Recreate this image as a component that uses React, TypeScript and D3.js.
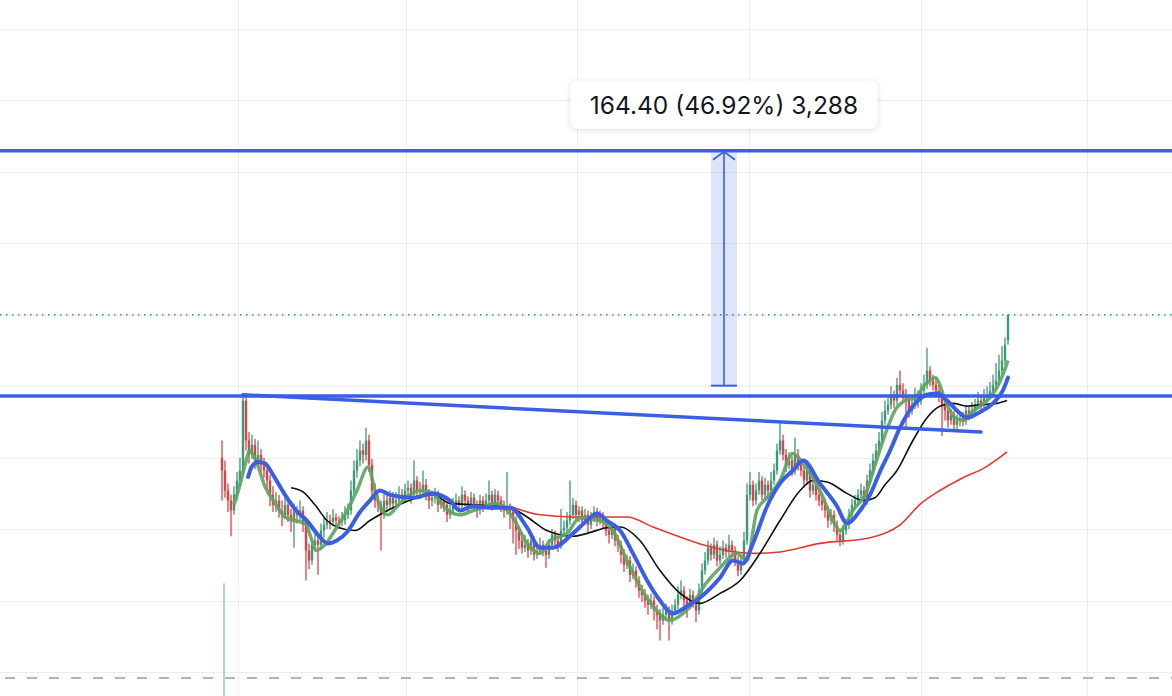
import * as d3 from 'd3'

const W = 1172
const H = 696

// daily bars, one slot per session (prices)
const opens = [
  300, 291, 277, 270, 263, 274, 284, 291, 340, 312,
  302, 309, 298, 302, 295, 291, 284, 274, 267, 270,
  263, 260, 267, 260, 256, 263, 260, 263, 253, 235,
  228, 239, 242, 239, 249, 253, 256, 255, 258, 256,
  255, 256, 260, 263, 277, 291, 298, 305, 302, 312,
  295, 277, 270, 267, 260, 270, 267, 272, 268, 270,
  274, 272, 277, 279, 274, 284, 277, 276, 281, 274,
  270, 272, 274, 267, 270, 267, 260, 263, 267, 270,
  267, 274, 270, 267, 272, 267, 263, 270, 267, 270,
  274, 267, 274, 270, 267, 263, 265, 262, 256, 249,
  242, 237, 239, 235, 242, 232, 235, 239, 235, 232,
  239, 246, 242, 239, 249, 251, 256, 260, 267, 260,
  263, 256, 260, 253, 258, 262, 256, 260, 255, 249,
  246, 251, 242, 239, 232, 225, 228, 218, 221, 214,
  207, 204, 200, 197, 200, 193, 190, 186, 190, 193,
  186, 193, 197, 204, 207, 200, 197, 204, 200, 193,
  207, 221, 228, 237, 232, 239, 228, 232, 237, 234,
  239, 235, 228, 221, 228, 242, 274, 281, 270, 277,
  284, 274, 281, 277, 284, 291, 305, 312, 302, 295,
  298, 291, 302, 295, 291, 284, 291, 277, 281, 274,
  270, 267, 263, 256, 260, 253, 246, 242, 249, 253,
  260, 267, 270, 274, 277, 270, 284, 291, 298, 305,
  312, 326, 333, 337, 344, 340, 351, 347, 344, 340,
  333, 337, 344, 340, 347, 351, 361, 354, 351, 347,
  344, 337, 333, 326, 330, 323, 326, 328, 326, 333,
  330, 333, 337, 340, 337, 342, 344, 347, 351, 354,
  361, 368, 382,
]
const highs = [
  312, 298, 282, 274, 280, 290, 300, 345, 343, 318,
  316, 313, 312, 306, 300, 294, 288, 280, 276, 274,
  270, 272, 270, 264, 268, 266, 270, 266, 256, 240,
  244, 248, 246, 254, 258, 262, 260, 264, 261, 259,
  262, 266, 268, 284, 298, 306, 312, 310, 321, 316,
  299, 282, 274, 270, 276, 275, 277, 276, 276, 280,
  278, 282, 284, 282, 298, 287, 283, 291, 285, 278,
  277, 279, 277, 275, 273, 270, 268, 272, 275, 273,
  280, 277, 273, 276, 275, 270, 274, 273, 275, 284,
  277, 278, 277, 273, 270, 290, 268, 265, 259, 252,
  248, 246, 243, 248, 245, 240, 244, 242, 238, 243,
  250, 249, 245, 264, 256, 262, 284, 272, 270, 266,
  266, 264, 263, 262, 266, 265, 263, 262, 258, 252,
  255, 254, 246, 242, 236, 232, 231, 226, 224, 217,
  211, 208, 204, 205, 203, 197, 194, 195, 198, 196,
  197, 201, 210, 214, 210, 203, 208, 207, 203, 212,
  226, 234, 242, 240, 244, 242, 238, 242, 240, 246,
  242, 238, 231, 232, 248, 282, 290, 284, 282, 290,
  287, 286, 284, 290, 296, 310, 324, 316, 306, 304,
  301, 314, 306, 299, 294, 296, 294, 286, 284, 278,
  274, 271, 266, 264, 263, 256, 250, 253, 257, 264,
  271, 274, 278, 282, 280, 288, 296, 303, 310, 318,
  332, 340, 342, 350, 347, 356, 361, 352, 348, 343,
  342, 349, 347, 352, 358, 377, 364, 358, 355, 351,
  347, 341, 337, 334, 333, 330, 331, 332, 337, 336,
  339, 341, 346, 343, 348, 350, 353, 358, 366, 372,
  378, 384, 400,
]
const lows = [
  270, 272, 262, 245, 260, 270, 280, 288, 305, 296,
  299, 292, 294, 290, 286, 278, 266, 262, 262, 258,
  252, 257, 255, 248, 237, 254, 256, 248, 214, 222,
  225, 236, 218, 236, 244, 250, 250, 252, 250, 250,
  252, 253, 257, 260, 274, 286, 294, 296, 298, 290,
  272, 265, 262, 235, 257, 262, 264, 264, 265, 266,
  268, 269, 272, 268, 271, 272, 271, 273, 270, 264,
  266, 268, 262, 264, 262, 255, 257, 260, 264, 262,
  264, 266, 262, 264, 263, 258, 260, 262, 264, 267,
  263, 264, 266, 262, 258, 260, 250, 240, 232, 236,
  233, 234, 230, 232, 228, 229, 232, 231, 223, 229,
  236, 238, 234, 236, 246, 248, 253, 257, 256, 255,
  252, 253, 248, 250, 255, 252, 253, 250, 245, 240,
  243, 238, 234, 226, 220, 222, 213, 215, 209, 202,
  199, 195, 190, 194, 186, 180, 172, 183, 187, 172,
  183, 190, 194, 201, 195, 188, 194, 195, 185, 190,
  204, 218, 225, 228, 229, 224, 225, 229, 230, 231,
  231, 224, 217, 218, 225, 239, 270, 266, 267, 274,
  270, 271, 272, 274, 281, 288, 302, 298, 290, 292,
  287, 288, 291, 287, 279, 281, 272, 274, 270, 266,
  263, 258, 251, 253, 248, 242, 238, 239, 246, 250,
  257, 264, 267, 271, 266, 267, 281, 288, 295, 302,
  309, 323, 330, 334, 335, 337, 344, 340, 320, 328,
  330, 334, 335, 337, 344, 348, 350, 347, 343, 339,
  315, 326, 321, 323, 318, 320, 322, 322, 323, 326,
  327, 330, 334, 333, 334, 339, 341, 344, 348, 351,
  358, 365, 379,
]
const closes = [
  291, 277, 270, 263, 274, 284, 291, 340, 312, 302,
  309, 298, 302, 295, 291, 284, 274, 267, 270, 263,
  260, 267, 260, 256, 263, 260, 263, 253, 235, 228,
  239, 242, 239, 249, 253, 256, 255, 258, 256, 255,
  256, 260, 263, 277, 291, 298, 305, 302, 312, 295,
  277, 270, 267, 260, 270, 267, 272, 268, 270, 274,
  272, 277, 279, 274, 284, 277, 276, 281, 274, 270,
  272, 274, 267, 270, 267, 260, 263, 267, 270, 267,
  274, 270, 267, 272, 267, 263, 270, 267, 270, 274,
  267, 274, 270, 267, 263, 265, 262, 256, 249, 242,
  237, 239, 235, 242, 232, 235, 239, 235, 232, 239,
  246, 242, 239, 249, 251, 256, 260, 267, 260, 263,
  256, 260, 253, 258, 262, 256, 260, 255, 249, 246,
  251, 242, 239, 232, 225, 228, 218, 221, 214, 207,
  204, 200, 197, 200, 193, 190, 186, 190, 193, 186,
  193, 197, 204, 207, 200, 197, 204, 200, 193, 207,
  221, 228, 237, 232, 239, 228, 232, 237, 234, 239,
  235, 228, 221, 228, 242, 274, 281, 270, 277, 284,
  274, 281, 277, 284, 291, 305, 312, 302, 295, 298,
  291, 302, 295, 291, 284, 291, 277, 281, 274, 270,
  267, 263, 256, 260, 253, 246, 242, 249, 253, 260,
  267, 270, 274, 277, 270, 284, 291, 298, 305, 312,
  326, 333, 337, 344, 340, 351, 347, 344, 340, 333,
  337, 344, 340, 347, 351, 361, 354, 351, 347, 344,
  337, 333, 326, 330, 323, 326, 328, 326, 333, 330,
  333, 337, 340, 337, 342, 344, 347, 351, 354, 361,
  368, 379, 400,
]

// moving averages, [bar slot, price]
const maFast = [[4,267],[6,281],[7.7,295],[9.3,305],[11.3,298],[14.3,280],[17.7,268],[21,258.5],[24.3,256],[27.7,254],[30,242],[31.3,235],[34.3,239],[38.3,251.5],[41.7,263],[45,277],[48.7,293.5],[51,277],[53.3,263],[55.3,260],[59.3,268],[62.7,274],[66,277],[70.3,275],[74.3,265],[79.3,260],[83.7,263],[91.7,268],[97,258],[101.7,240],[106,233],[109.3,242],[115,247],[119.3,258],[126,256],[130.3,249],[135,228],[139.3,210],[143.7,196],[149.3,186],[153.7,191],[157.7,200],[161,211],[166,223],[171.7,233],[175,228],[178.3,263],[181.7,272],[186,284],[190.3,303],[193.7,296],[199.3,277],[203.7,256],[206,249],[210.3,263],[215,277],[217.7,295],[221,316],[224.3,333],[227.7,340],[231,342],[234.3,351],[237.7,356],[241.7,337],[244.3,328],[247,326],[250,332],[252.7,336],[256,342],[258.3,349],[260.3,358],[262,368]]
const maMid = [[8.7,286.5],[10,294],[12,297],[14.3,296],[17,288],[21,274],[24.7,263],[28.3,256],[32,246],[35.3,240],[38.3,242],[41.7,248],[46,262],[49.3,270],[52.7,277],[56,274],[63.7,272],[70.3,275],[76,270],[79.3,263],[83.7,266],[89.3,265],[96,265],[101.7,251],[106,237],[110.3,237],[117,247],[121.7,256],[125,261],[128.3,256],[132.7,249],[137,233],[141.7,214],[146,200],[150.3,191],[155,196],[159.3,202],[166,216],[170.3,228],[173.7,226],[177,240],[181.7,266],[186,282],[190.3,291],[193.7,298],[199.3,282],[205,266],[208.3,254],[212.7,263],[216,274],[219.3,290],[222.7,305],[226,321],[230.3,336],[235,344],[238.3,345],[241.7,340],[246,331],[248.3,328],[252.7,332],[257,338],[260.3,347],[262,356]]
const maSlow = [[23,279],[27,276],[31,267],[35,256],[38.3,251.5],[44.3,249],[49.3,256],[57,265],[65,272],[70.3,274],[76,268],[83.7,267],[96,265],[101.7,258.5],[108.3,249],[117,245],[121.7,247],[128.3,251],[132.7,251.5],[139.3,242],[146,221],[152.7,205],[159.3,198],[166,205],[172.7,214],[179.3,233],[186,256],[192.7,277],[197,284],[201.7,283],[208.3,275],[213.7,270],[217.7,272],[221,281],[225,291],[230.3,312],[235,328],[239.3,336],[243.7,338],[248.3,336],[252.7,337],[258.3,338],[261.7,340]]
const maLong = [[96,266],[106,260],[117,258.5],[135,258.5],[143.7,251.5],[156,242],[160.3,239],[177,233],[186,234],[199.3,240],[216,244],[226,253],[233,268],[239.3,277],[247,286],[254.3,293],[261.7,304]]

const gridSlots = [5.33, 61.33, 118.33, 175.67, 233, 288.33]
const gridPrices = [150, 200, 250, 300, 350, 400, 450, 500, 550, 600]

const targetLevel = 514.78
const breakoutLevel = 343.1
const trendStart = [7, 344]
const trendEnd = [253, 318]
const measureFrom = 350.38
const measureTo = 514.78
const measureSlot = 167.33
const measureBars = '3,288'
const lowLevel = 145.8
const firstVolSlot = 0.67
const firstVolTop = 212

const UP = '#3c9876'
const DOWN = '#d8434a'
const BLUE = '#3a5fe5'

export default function App() {
  const x = d3.scaleLinear().domain([0, closes.length - 1]).range([222, 1008])
  const y = d3.scaleLinear().domain([150, 600]).range([672, 29])

  const line = d3.line<number[]>()
    .x(d => x(d[0]))
    .y(d => y(d[1]))
    .curve(d3.curveMonotoneX)

  const candles = closes.map((c, i) => ({ i, o: opens[i], h: highs[i], l: lows[i], c }))

  const mx = x(measureSlot)
  const halfW = 13
  const mTop = y(measureTo)
  const mBot = y(measureFrom)
  const diff = measureTo - measureFrom
  const label = `${diff.toFixed(2)} (${(diff / measureFrom * 100).toFixed(2)}%) ${measureBars}`

  const boxW = 307
  const boxH = 48

  return (
    <svg width={W} height={H} style={{ position: 'absolute', left: 0, top: 0, background: '#fff' }}>
      <defs>
        <filter id="shadow" x="-10%" y="-30%" width="120%" height="160%">
          <feDropShadow dx="0" dy="1" stdDeviation="3" floodColor="#000" floodOpacity="0.14" />
        </filter>
      </defs>

      {/* grid */}
      <g stroke="#eeeeef" strokeWidth={1}>
        {gridSlots.map(s => (
          <line key={'v' + s} x1={Math.round(x(s)) + 0.5} x2={Math.round(x(s)) + 0.5} y1={0} y2={H} />
        ))}
        {gridPrices.map(p => (
          <line key={'h' + p} x1={0} x2={W} y1={Math.round(y(p)) + 0.5} y2={Math.round(y(p)) + 0.5} />
        ))}
      </g>

      {/* last price + low marker */}
      <line x1={0} x2={W} y1={y(closes[closes.length - 1])} y2={y(closes[closes.length - 1])}
        stroke={UP} strokeWidth={1.5} strokeDasharray="1.5 4.5" />
      <line x1={0} x2={W} y1={y(lowLevel)} y2={y(lowLevel)}
        stroke="#9b9b9b" strokeWidth={1.5} strokeDasharray="10 12" strokeDashoffset={-5} />

      {/* first session volume spike */}
      <line x1={x(firstVolSlot)} x2={x(firstVolSlot)} y1={y(firstVolTop)} y2={H} stroke="#6aa9a6" strokeWidth={1} />

      {/* candles */}
      <g>
        {candles.map(d => {
          const col = d.c >= d.o ? UP : DOWN
          const cx = x(d.i)
          const top = y(Math.max(d.o, d.c))
          const bot = y(Math.min(d.o, d.c))
          return (
            <g key={d.i}>
              <line x1={cx} x2={cx} y1={y(d.h)} y2={y(d.l)} stroke={col} strokeWidth={1.3} />
              <rect x={cx - 1.2} y={top} width={2.4} height={Math.max(1, bot - top)} fill={col} />
            </g>
          )
        })}
      </g>

      {/* moving averages */}
      <path d={line(maLong) || ''} fill="none" stroke="#e0392f" strokeWidth={1.6} />
      <path d={line(maSlow) || ''} fill="none" stroke="#111" strokeWidth={1.6} />
      <path d={line(maFast) || ''} fill="none" stroke="#5fa35f" strokeWidth={3.5} opacity={0.9} />
      <path d={line(maMid) || ''} fill="none" stroke={BLUE} strokeWidth={4} strokeLinecap="round" />

      {/* drawings */}
      <line x1={0} x2={W} y1={y(targetLevel)} y2={y(targetLevel)} stroke={BLUE} strokeWidth={3.5} />
      <line x1={0} x2={W} y1={y(breakoutLevel)} y2={y(breakoutLevel)} stroke={BLUE} strokeWidth={3.5} />
      <line x1={x(trendStart[0])} y1={y(trendStart[1])} x2={x(trendEnd[0])} y2={y(trendEnd[1])}
        stroke={BLUE} strokeWidth={3.5} strokeLinecap="round" />

      {/* price range measure */}
      <rect x={mx - halfW} y={mTop} width={halfW * 2} height={mBot - mTop} fill="rgba(58,95,229,0.17)" />
      <line x1={mx} x2={mx} y1={mTop} y2={mBot} stroke={BLUE} strokeWidth={1.6} />
      <line x1={mx - halfW} x2={mx + halfW} y1={mBot} y2={mBot} stroke={BLUE} strokeWidth={2} />
      <path d={`M${mx - 11},${mTop + 9} L${mx},${mTop + 1} L${mx + 11},${mTop + 9}`} fill="none" stroke={BLUE} strokeWidth={1.6} />

      <g filter="url(#shadow)">
        <rect x={mx - boxW / 2} y={mTop - 22 - boxH} width={boxW} height={boxH} rx={8} fill="#fff" />
      </g>
      <text x={mx} y={mTop - 22 - boxH / 2} dy="0.36em" textAnchor="middle"
        fontFamily="Inter, Roboto, 'Noto Sans', sans-serif" fontSize={24.5} fill="#131722">
        {label}
      </text>
    </svg>
  )
}
